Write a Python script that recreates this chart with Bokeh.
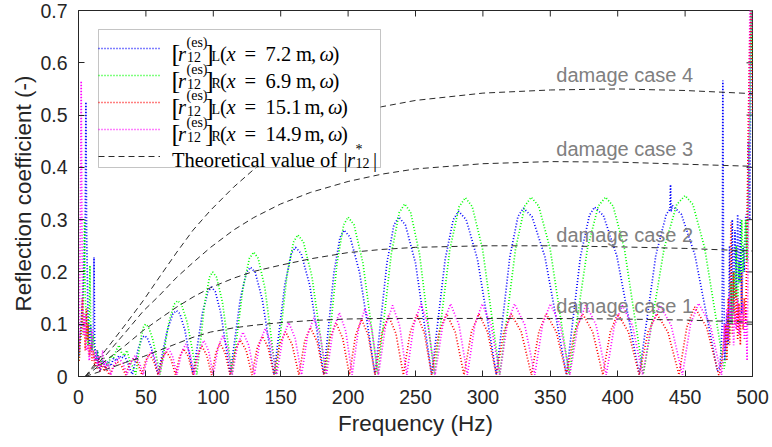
from bokeh.plotting import figure
from bokeh.models import (Range1d, FixedTicker, Legend, LegendItem, BoxAnnotation,
                          Label, CustomJSTickFormatter)
from bokeh.core.properties import value
from bokeh.embed import file_html
from bokeh.resources import INLINE

# ---------------- data ----------------
x_ticks = [0, 50, 100, 150, 200, 250, 300, 350, 400, 450, 500]
y_ticks = [0, 0.1, 0.2, 0.3, 0.4, 0.5, 0.6, 0.7]

# [r12(es)]_L (x = 7.2 m)
blue_f = [0.5, 1, 2, 3, 4, 5, 5.5, 6, 7, 8, 9, 10, 11, 11.5, 12, 13, 14, 15, 16, 18, 20, 22, 24, 26, 28, 30, 32, 34, 36, 38, 40,
          44.5, 47.2, 49, 51, 54, 59,
          65.9, 70, 72.7, 75.2, 78.9, 85,
          91.9, 96, 98.7, 101.5, 105.6, 112.5,
          120, 124.6, 127.6, 131.1, 136.3, 145,
          153, 157.8, 161, 165.2, 171.5, 182,
          189.5, 194, 197, 201.6, 208.5, 220,
          228.8, 234, 237.6, 242.5, 250, 262,
          272, 278, 282, 287.6, 296, 310,
          320, 326, 330, 336.4, 346, 362,
          372.4, 379, 382.8, 389.4, 399.4, 416,
          428.3, 436, 438.8, 439.2, 439.6, 440.6, 447.3, 457.3, 474,
          476, 477.5, 478, 478.5, 479.5, 481, 482, 483, 484, 485, 486, 487, 488, 489, 490, 491, 492, 493, 494, 495, 496, 497, 498, 499, 500]
blue_v = [0.04, 0.07, 0.1, 0.15, 0.2, 0.3, 0.525, 0.28, 0.12, 0.06, 0.1, 0.05, 0.08, 0.228, 0.06, 0.03, 0.05, 0.02, 0.01, 0.03, 0.015, 0.03, 0.02, 0.035, 0.03, 0.04, 0.035, 0.04, 0.03, 0.015, 0.004,
          0.055, 0.074, 0.078, 0.074, 0.055, 0.004,
          0.089, 0.120, 0.126, 0.120, 0.089, 0.004,
          0.121, 0.162, 0.171, 0.162, 0.121, 0.004,
          0.148, 0.199, 0.209, 0.199, 0.148, 0.004,
          0.175, 0.235, 0.247, 0.235, 0.175, 0.004,
          0.199, 0.266, 0.280, 0.266, 0.199, 0.004,
          0.217, 0.290, 0.305, 0.290, 0.217, 0.004,
          0.224, 0.300, 0.316, 0.300, 0.224, 0.004,
          0.229, 0.306, 0.322, 0.306, 0.229, 0.004,
          0.230, 0.308, 0.324, 0.308, 0.230, 0.004,
          0.232, 0.310, 0.320, 0.367, 0.315, 0.327, 0.310, 0.232, 0.010,
          0.02, 0.1, 0.566, 0.2, 0.03, 0.12, 0.06, 0.25, 0.1, 0.3, 0.12, 0.28, 0.15, 0.31, 0.18, 0.3, 0.12, 0.25, 0.2, 0.31, 0.25, 0.45, 0.3, 0.72, 0.72]

# [r12(es)]_R (x = 6.9 m)
green_f = [0.5, 1, 2, 3, 4, 4.5, 5, 6, 7, 8, 8.5, 9, 10, 11, 12, 13, 14, 16, 18, 20, 22, 24, 26, 28, 30, 32, 34, 36, 38, 40, 42.5,
           46.1, 48.3, 49.7, 51.9, 55.1, 60.5,
           67, 70.9, 73.5, 76.4, 80.7, 87.8,
           93.7, 97.2, 99.5, 102.4, 106.8, 114,
           122, 126.8, 130, 133.3, 138.3, 146.5,
           154.6, 159.5, 162.7, 166.9, 173.1, 183.5,
           191.8, 196.7, 200, 204.4, 211, 222,
           232, 238, 242, 246.4, 253, 264,
           275.5, 282.4, 287, 292.1, 299.8, 312.5,
           324.2, 331.1, 335.8, 341.4, 349.9, 364,
           377.5, 385.6, 391, 396.6, 405, 419,
           434.5, 443.8, 450, 455.8, 464.5, 479,
           481, 482, 483, 484, 485, 486, 487, 488, 489, 490, 491, 492, 493, 494, 495, 496, 497, 498, 499, 500]
green_v = [0.03, 0.06, 0.08, 0.12, 0.2, 0.3, 0.15, 0.1, 0.06, 0.12, 0.212, 0.1, 0.05, 0.08, 0.04, 0.03, 0.05, 0.02, 0.04, 0.03, 0.02, 0.04, 0.035, 0.05, 0.06, 0.045, 0.04, 0.05, 0.03, 0.02, 0.004,
           0.071, 0.095, 0.100, 0.095, 0.071, 0.004,
           0.103, 0.138, 0.145, 0.138, 0.103, 0.004,
           0.142, 0.190, 0.200, 0.190, 0.142, 0.004,
           0.169, 0.226, 0.238, 0.226, 0.169, 0.004,
           0.192, 0.257, 0.271, 0.257, 0.192, 0.004,
           0.217, 0.290, 0.305, 0.290, 0.217, 0.004,
           0.234, 0.314, 0.330, 0.314, 0.234, 0.004,
           0.243, 0.325, 0.342, 0.325, 0.243, 0.004,
           0.244, 0.326, 0.343, 0.326, 0.244, 0.004,
           0.244, 0.326, 0.343, 0.326, 0.244, 0.004,
           0.246, 0.329, 0.346, 0.329, 0.246, 0.015,
           0.05, 0.12, 0.08, 0.18, 0.1, 0.2, 0.15, 0.25, 0.12, 0.22, 0.18, 0.3, 0.2, 0.25, 0.3, 0.22, 0.35, 0.5, 0.72, 0.6]

# [r12(es)]_L (x = 15.1 m)
red_f = [0.5, 1, 2, 3, 3.5, 4, 5, 6, 6.5, 7, 8, 9, 10, 11, 12, 13, 14, 15, 16, 17, 18, 19, 20, 21, 23,
         26, 29, 32, 35, 38, 41, 44, 47, 49.75, 52.5, 55.75, 59,
         62, 65, 68.5, 72, 75, 78, 81.5, 85, 88.25, 91.5, 95.1, 98.75,
         101.9, 105, 108.75, 112.5, 116.25, 120, 124.4, 128.75, 132.6, 136.5, 140.75, 145,
         149.25, 153.5, 158.5, 163.5, 167.75, 172, 177, 182, 186.5, 191, 196, 201,
         205.5, 210, 215, 220, 225, 230, 235.5, 241, 246, 251, 256.5, 262,
         267.5, 273, 279.5, 286, 291.5, 297, 303.5, 310, 315.5, 321, 328.5, 336,
         341.5, 347, 354.5, 362, 368, 374, 381.5, 389, 394.5, 400, 408, 416,
         422.5, 429, 437.25, 445.5, 451.25, 457, 466, 475,
         476, 478, 480, 481, 482, 483, 484, 485, 486, 487, 488, 489, 490, 491, 492, 493, 494, 495, 496, 497, 498, 499, 500]
red_v = [0.03, 0.06, 0.1, 0.15, 0.08, 0.12, 0.05, 0.13, 0.07, 0.1, 0.04, 0.06, 0.03, 0.05, 0.02, 0.035, 0.015, 0.03, 0.01, 0.025, 0.02, 0.01, 0.02, 0.012, 0.003,
         0.020, 0.028, 0.020, 0.003, 0.025, 0.035, 0.025, 0.003, 0.030, 0.042, 0.030, 0.003,
         0.034, 0.048, 0.034, 0.003, 0.038, 0.053, 0.038, 0.003, 0.041, 0.058, 0.041, 0.003,
         0.045, 0.064, 0.045, 0.003, 0.050, 0.070, 0.050, 0.003, 0.055, 0.077, 0.055, 0.003,
         0.061, 0.086, 0.061, 0.003, 0.067, 0.094, 0.067, 0.003, 0.073, 0.103, 0.073, 0.003,
         0.078, 0.110, 0.078, 0.003, 0.082, 0.116, 0.082, 0.003, 0.084, 0.119, 0.084, 0.003,
         0.085, 0.120, 0.085, 0.003, 0.085, 0.120, 0.085, 0.003, 0.085, 0.120, 0.085, 0.003,
         0.085, 0.120, 0.085, 0.003, 0.085, 0.120, 0.085, 0.003, 0.085, 0.120, 0.085, 0.003,
         0.085, 0.120, 0.085, 0.003, 0.094, 0.133, 0.094, 0.003,
         0.01, 0.05, 0.1, 0.03, 0.15, 0.06, 0.295, 0.08, 0.2, 0.1, 0.17, 0.07, 0.14, 0.06, 0.2, 0.09, 0.15, 0.1, 0.3, 0.5, 0.65, 0.72, 0.5]

# [r12(es)]_R (x = 14.9 m)
magenta_f = [0.5, 1, 1.5, 2, 2.5, 3, 4, 5, 6, 7, 8, 9, 10, 11, 12, 13, 14, 15, 16, 17, 18, 19, 20, 21, 22, 24,
             27, 30, 33, 36, 39, 42, 45, 48, 51, 54, 57, 60,
             63.25, 66.5, 69.75, 73, 76.25, 79.5, 82.75, 86, 89.5, 93, 96.5, 100,
             103.5, 107, 110.5, 114, 118, 122, 126.25, 130.5, 134.5, 138.5, 142.75, 147,
             151.5, 156, 160.75, 165.5, 170, 174.5, 179.25, 184, 188.75, 193.5, 198.25, 203,
             207.75, 212.5, 217.5, 222.5, 227.75, 233, 238.25, 243.5, 248.75, 254, 259.25, 264.5,
             270.25, 276, 282.25, 288.5, 294, 299.5, 306, 312.5, 318, 323.5, 331, 338.5,
             344.25, 350, 357.25, 364.5, 370.5, 376.5, 384, 391.5, 397.5, 403.5, 411, 418.5,
             425, 431.5, 439.75, 448, 454, 460, 468.5, 477,
             478, 479, 480, 481, 482, 483, 484, 485, 486, 487, 488, 489, 490, 491, 492, 493, 494, 495, 496, 497, 498, 499, 500]
magenta_v = [0.05, 0.2, 0.35, 0.565, 0.3, 0.15, 0.08, 0.12, 0.05, 0.06, 0.03, 0.05, 0.09, 0.04, 0.03, 0.05, 0.02, 0.04, 0.015, 0.03, 0.05, 0.02, 0.03, 0.015, 0.025, 0.003,
             0.025, 0.035, 0.025, 0.003, 0.028, 0.040, 0.028, 0.003, 0.034, 0.048, 0.034, 0.003,
             0.039, 0.055, 0.039, 0.003, 0.044, 0.062, 0.044, 0.003, 0.049, 0.069, 0.049, 0.003,
             0.055, 0.078, 0.055, 0.003, 0.060, 0.085, 0.060, 0.003, 0.065, 0.092, 0.065, 0.003,
             0.073, 0.103, 0.073, 0.003, 0.080, 0.112, 0.080, 0.003, 0.087, 0.122, 0.087, 0.003,
             0.092, 0.130, 0.092, 0.003, 0.097, 0.136, 0.097, 0.003, 0.099, 0.139, 0.099, 0.003,
             0.099, 0.139, 0.099, 0.003, 0.099, 0.139, 0.099, 0.003, 0.099, 0.139, 0.099, 0.003,
             0.099, 0.139, 0.099, 0.003, 0.098, 0.138, 0.098, 0.003, 0.097, 0.136, 0.097, 0.003,
             0.097, 0.136, 0.097, 0.003, 0.100, 0.140, 0.100, 0.003,
             0.03, 0.1, 0.05, 0.13, 0.07, 0.16, 0.1, 0.14, 0.06, 0.12, 0.09, 0.15, 0.08, 0.13, 0.1, 0.14, 0.07, 0.13, 0.03, 0.3, 0.7, 0.72, 0.65]

# theoretical |r12*| for the four damage cases
theory_f = [5, 20, 35, 48, 60, 73, 85, 98, 115, 130, 150, 172, 200, 225, 250, 300, 350, 400, 450, 500]
case1_v = [0, 0.013, 0.027, 0.038, 0.050, 0.063, 0.075, 0.085, 0.093, 0.098, 0.103, 0.107, 0.110, 0.111, 0.111, 0.111, 0.111, 0.110, 0.108, 0.104]
case2_v = [0, 0.030, 0.060, 0.088, 0.110, 0.133, 0.152, 0.170, 0.188, 0.201, 0.213, 0.225, 0.237, 0.243, 0.247, 0.250, 0.250, 0.248, 0.245, 0.240]
case3_v = [0, 0.040, 0.085, 0.125, 0.155, 0.190, 0.218, 0.247, 0.280, 0.304, 0.330, 0.352, 0.373, 0.387, 0.397, 0.407, 0.411, 0.410, 0.406, 0.402]
case4_v = [0, 0.050, 0.100, 0.145, 0.190, 0.238, 0.280, 0.318, 0.362, 0.396, 0.433, 0.468, 0.499, 0.516, 0.528, 0.542, 0.548, 0.550, 0.547, 0.541]
theory_cases = [case1_v, case2_v, case3_v, case4_v]
case_names = ["damage case 1", "damage case 2", "damage case 3", "damage case 4"]

# ---------------- figure ----------------
AX = "#262626"
X0, X1, Y0, Y1 = 0, 500, 0, 0.7
p = figure(width=772, height=447, output_backend="svg", toolbar_location=None,
           x_range=Range1d(X0, X1), y_range=Range1d(Y0, Y1),
           min_border_left=78, min_border_right=20, min_border_top=10, min_border_bottom=71,
           x_axis_label="Frequency (Hz)", y_axis_label="Reflection coefficient (-)")
p.grid.visible = False
p.outline_line_color = AX
p.outline_line_width = 1
p.background_fill_color = "white"
p.border_fill_color = "white"

p.xaxis.ticker = FixedTicker(ticks=x_ticks)
p.yaxis.ticker = FixedTicker(ticks=y_ticks)
p.yaxis.formatter = CustomJSTickFormatter(code="return tick === 0 ? '0' : tick.toFixed(1);")
for ax in (p.xaxis[0], p.yaxis[0]):
    ax.axis_line_color = AX
    ax.major_tick_line_color = AX
    ax.major_tick_in = 6
    ax.major_tick_out = 0
    ax.minor_tick_line_color = None
    ax.major_label_text_font = "Liberation Sans"
    ax.major_label_text_font_size = "19.5px"
    ax.major_label_text_color = AX
    ax.axis_label_text_font = "Liberation Sans"
    ax.axis_label_text_font_size = "22.5px"
    ax.axis_label_text_font_style = "normal"
    ax.axis_label_text_color = AX
p.xaxis.major_label_standoff = 13
p.xaxis.axis_label_standoff = 4
p.yaxis.major_label_standoff = 11
p.yaxis.axis_label_standoff = 1

# inward ticks on the top and right edges of the box (6 px long)
tick_dy = 6 * (Y1 - Y0) / 366.0
tick_dx = 6 * (X1 - X0) / 674.0
p.segment(x0=x_ticks, y0=[Y1] * len(x_ticks), x1=x_ticks, y1=[Y1 - tick_dy] * len(x_ticks),
          line_color=AX, line_width=1)
p.segment(x0=[X1] * len(y_ticks), y0=y_ticks, x1=[X1 - tick_dx] * len(y_ticks), y1=y_ticks,
          line_color=AX, line_width=1)

dot = dict(line_width=1.7, line_dash="1 2")
r_blue = p.line(blue_f, blue_v, line_color="#0000ff", **dot)
r_green = p.line(green_f, green_v, line_color="#00ff00", **dot)
r_red = p.line(red_f, red_v, line_color="#ff0000", **dot)
r_mag = p.line(magenta_f, magenta_v, line_color="#ff00ff", **dot)
r_th = [p.line(theory_f, c, line_color="#2a2a2a", line_width=1, line_dash="6 4") for c in theory_cases]

# damage case annotations
case_label_y = [0.134, 0.270, 0.436, 0.576]
for name, yy in zip(case_names, case_label_y):
    p.add_layout(Label(x=354.5, y=yy, text=name, text_font="Liberation Sans",
                       text_font_size="20px", text_color="#808080",
                       text_baseline="alphabetic", text_align="left", level="overlay"))


def px2data(xp, yp):
    return (xp - 78) * (X1 - X0) / 674.0, (376 - yp) * (Y1 - Y0) / 366.0


# legend box (white, opaque) drawn first, then the Legend samples, then the text
bl, bt = px2data(98, 29)
br, bb = px2data(380, 167)
p.add_layout(BoxAnnotation(left=bl, right=br, top=bt, bottom=bb, fill_color="white",
                           fill_alpha=1, line_color="#3a3a3a", line_width=1, level="annotation"))

legend = Legend(items=[LegendItem(label=value(" "), renderers=[r]) for r in
                       [r_blue, r_green, r_red, r_mag, r_th[0]]],
                location=(20, 207), glyph_width=62, glyph_height=20, label_width=208,
                label_height=26, label_standoff=5, spacing=1, padding=3, margin=0,
                border_line_color=None, background_fill_alpha=0, label_text_font_size="10px")
p.add_layout(legend)


def txt(s, xp, yp, size, style="normal"):
    x, y = px2data(xp, yp)
    p.add_layout(Label(x=x, y=y, text=s, text_font="Liberation Serif", text_font_size=size,
                       text_font_style=style, text_color="black",
                       text_baseline="alphabetic", text_align="left", level="overlay"))


MAIN, SCR, BR = "20.5px", "14px", "26px"
row_c = [45.7, 72.7, 99.3, 125.7, 151.7]
rows = [("L", "7.2", False), ("R", "6.9", False), ("L", "15.1", True), ("R", "14.9", True)]
for c, (side, num, wide) in zip(row_c, rows):
    sh = 8.5 if wide else 0
    txt("[", 171.0, c + 7.2, BR)
    txt("r", 177.5, c + 7.6, MAIN, "italic")
    txt("(es)", 186.0, c - 3.9, SCR)
    txt("12", 186.5, c + 11.0, SCR)
    txt("]", 204.5, c + 7.2, BR)
    txt(side, 211.0, c + 10.0, SCR)
    txt("(", 219.5, c + 7.6, MAIN)
    txt("x", 226.0, c + 7.6, MAIN, "italic")
    txt("=", 244.0, c + 7.6, MAIN)
    txt(num, 265.0, c + 7.6, MAIN)
    txt("m", 295.5 + sh, c + 7.6, MAIN)
    txt(",", 310.5 + sh, c + 7.6, MAIN)
    txt("ω", 319.0 + sh, c + 7.6, MAIN, "italic")
    txt(")", 332.0 + sh, c + 7.6, MAIN)
c = row_c[4]
txt("Theoretical value of", 171.5, c + 7.6, MAIN)
txt("|", 343.0, c + 7.6, MAIN)
txt("r", 346.5, c + 7.6, MAIN, "italic")
txt("*", 355.0, c - 2.5, SCR)
txt("12", 355.0, c + 11.0, SCR)
txt("|", 372.5, c + 7.6, MAIN)

open("out.html", "w").write(file_html(p, INLINE))
